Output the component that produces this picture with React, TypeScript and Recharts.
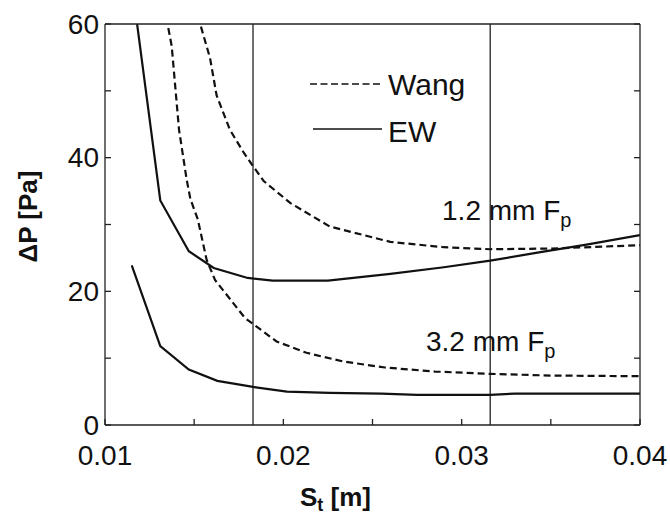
import { LineChart, Line, XAxis, YAxis, ReferenceLine, ReferenceDot, Legend } from 'recharts';

const FONT = '"Liberation Sans", Arial, sans-serif';
const INK = '#111';

// St [m] vs dP [Pa]
const wang12 = [
    { st: 0.01538, dp: 59.6 },
    { st: 0.01589, dp: 54.9 },
    { st: 0.01626, dp: 49.3 },
    { st: 0.0170, dp: 44.2 },
    { st: 0.01779, dp: 40.7 },
    { st: 0.01826, dp: 38.9 },
    { st: 0.0189, dp: 36.5 },
    { st: 0.0204, dp: 33.2 },
    { st: 0.0226, dp: 29.7 },
    { st: 0.0260, dp: 27.4 },
    { st: 0.0290, dp: 26.6 },
    { st: 0.0316, dp: 26.3 },
    { st: 0.0350, dp: 26.4 },
    { st: 0.0400, dp: 26.9 },
];

const ew12 = [
    { st: 0.0118, dp: 60 },
    { st: 0.0131, dp: 33.6 },
    { st: 0.0147, dp: 26.0 },
    { st: 0.0161, dp: 23.5 },
    { st: 0.0180, dp: 22.0 },
    { st: 0.0194, dp: 21.6 },
    { st: 0.0225, dp: 21.6 },
    { st: 0.0260, dp: 22.6 },
    { st: 0.0290, dp: 23.6 },
    { st: 0.0316, dp: 24.6 },
    { st: 0.0345, dp: 25.9 },
    { st: 0.0370, dp: 27.0 },
    { st: 0.0400, dp: 28.4 },
];

const wang32 = [
    { st: 0.01355, dp: 59.4 },
    { st: 0.01374, dp: 56.7 },
    { st: 0.01415, dp: 44.2 },
    { st: 0.01458, dp: 36.7 },
    { st: 0.01479, dp: 33.8 },
    { st: 0.0152, dp: 30.8 },
    { st: 0.0157, dp: 24.7 },
    { st: 0.01617, dp: 21.7 },
    { st: 0.01785, dp: 16.0 },
    { st: 0.01826, dp: 15.2 },
    { st: 0.01962, dp: 12.5 },
    { st: 0.0213, dp: 10.8 },
    { st: 0.02336, dp: 9.5 },
    { st: 0.0257, dp: 8.6 },
    { st: 0.0285, dp: 8.0 },
    { st: 0.0316, dp: 7.65 },
    { st: 0.0350, dp: 7.4 },
    { st: 0.0400, dp: 7.3 },
];

const ew32 = [
    { st: 0.0115, dp: 23.9 },
    { st: 0.0131, dp: 11.8 },
    { st: 0.0147, dp: 8.3 },
    { st: 0.0163, dp: 6.6 },
    { st: 0.0183, dp: 5.7 },
    { st: 0.0202, dp: 5.0 },
    { st: 0.0226, dp: 4.8 },
    { st: 0.0255, dp: 4.7 },
    { st: 0.0275, dp: 4.5 },
    { st: 0.0316, dp: 4.5 },
    { st: 0.0330, dp: 4.7 },
    { st: 0.0400, dp: 4.7 },
];

const xTicks = [0.01, 0.015, 0.02, 0.025, 0.03, 0.035, 0.04];
const yTicks = [0, 10, 20, 30, 40, 50, 60];
const markerLines = [0.0183, 0.0316];
const legendNames = ['Wang', 'EW'];
const notes = [
    { text: '1.2 mm F', sub: 'p', st: 0.0289, dp: 30.7 },
    { text: '3.2 mm F', sub: 'p', st: 0.0280, dp: 11.0 },
];

const DASH = '7 4';
const AXIS = '#222';
const axisStroke = { stroke: AXIS, strokeWidth: 1.3 };
const X_GAP = 20; // label gap under the x axis
const Y_GAP = 6; // label gap left of the y axis
const TICK = 6;

const fmtX = (v: number) => (Math.round(v * 1000) % 10 === 0 ? v.toFixed(2) : '');
const fmtY = (v: number) => (v % 20 === 0 ? String(v) : '');

// ticks point into the plot, so each tick draws its own little line
function BottomTick({ x, y, payload }: any) {
    const axisY = y - X_GAP;
    return (
        <g>
            <line x1={x} x2={x} y1={axisY} y2={axisY - TICK} stroke={AXIS} strokeWidth={1.3} />
            <text x={x} y={y} dy="0.71em" textAnchor="middle" fontFamily={FONT} fontSize={28} fill={INK}>
                {fmtX(payload.value)}
            </text>
        </g>
    );
}

function LeftTick({ x, y, payload }: any) {
    const axisX = x + Y_GAP;
    return (
        <g>
            <line x1={axisX} x2={axisX + TICK} y1={y} y2={y} stroke={AXIS} strokeWidth={1.3} />
            <text x={x} y={y} dy="0.34em" textAnchor="end" fontFamily={FONT} fontSize={28} fill={INK}>
                {fmtY(payload.value)}
            </text>
        </g>
    );
}

function TopTick({ x, y }: any) {
    return <line x1={x} x2={x} y1={y} y2={y + TICK} stroke={AXIS} strokeWidth={1.3} />;
}

function RightTick({ x, y }: any) {
    return <line x1={x} x2={x - TICK} y1={y} y2={y} stroke={AXIS} strokeWidth={1.3} />;
}

function YTitle({ viewBox }: any) {
    const x = viewBox.x + 37;
    const y = viewBox.y + viewBox.height / 2 - 8;
    return (
        <text x={x} y={y} transform={`rotate(-90 ${x} ${y})`} textAnchor="middle"
            fontFamily={FONT} fontSize={26} fontWeight="bold" fill={INK}>
            ΔP [Pa]
        </text>
    );
}

function XTitle({ viewBox }: any) {
    const x = viewBox.x + 195;
    const y = viewBox.y + 81;
    return (
        <text x={x} y={y} fontFamily={FONT} fontSize={26} fontWeight="bold" fill={INK}>
            S<tspan fontSize={18} dy={5}>t</tspan><tspan dy={-5}> [m]</tspan>
        </text>
    );
}

function noteLabel(text: string, sub: string) {
    return ({ viewBox }: any) => (
        <text x={viewBox.x} y={viewBox.y} fontFamily={FONT} fontSize={28} fill={INK}>
            {text}<tspan fontSize={20} dy={7}>{sub}</tspan>
        </text>
    );
}

function LegendBox() {
    return (
        <svg width={180} height={100} style={{ display: 'block' }}>
            {legendNames.map((name, i) => (
                <g key={name}>
                    <line x1={10 + i * 3} x2={82} y1={24 + i * 45} y2={24 + i * 45}
                        stroke={INK} strokeWidth={1.3} strokeDasharray={i === 0 ? '7 3.5' : undefined} />
                    <text x={88} y={35 + i * 47} fontFamily={FONT} fontSize={30} fill={INK}>{name}</text>
                </g>
            ))}
        </svg>
    );
}

export default function App() {
    return (
        <div style={{ position: 'absolute', left: 0, top: 0, background: '#fff' }}>
            <LineChart width={670} height={520} margin={{ top: 4, right: 0, bottom: 0, left: 0 }}>
                <XAxis xAxisId="b" dataKey="st" type="number" domain={[0.01, 0.04]} ticks={xTicks}
                    allowDataOverflow height={95} tickSize={0} tickMargin={X_GAP} tickLine={false}
                    axisLine={axisStroke} tick={<BottomTick />} interval={0}
                    label={<XTitle />} />
                <XAxis xAxisId="t" orientation="top" type="number" domain={[0.01, 0.04]} ticks={xTicks}
                    allowDataOverflow height={20} tickSize={0} tickMargin={0} tickLine={false}
                    axisLine={axisStroke} tick={<TopTick />} interval={0} />
                <YAxis yAxisId="l" type="number" domain={[0, 60]} ticks={yTicks} allowDataOverflow
                    width={105} tickSize={0} tickMargin={Y_GAP} tickLine={false}
                    axisLine={axisStroke} tick={<LeftTick />} interval={0}
                    label={<YTitle />} />
                <YAxis yAxisId="r" orientation="right" type="number" domain={[0, 60]} ticks={yTicks}
                    allowDataOverflow width={30} tickSize={0} tickMargin={0} tickLine={false}
                    axisLine={axisStroke} tick={<RightTick />} interval={0} />

                {markerLines.map((v) => (
                    <ReferenceLine key={v} xAxisId="b" yAxisId="l" x={v} stroke={AXIS} strokeWidth={1.3} />
                ))}

                <Line xAxisId="b" yAxisId="l" data={wang12} dataKey="dp" name="Wang 1.2 mm" type="linear"
                    stroke={INK} strokeWidth={2.2} strokeDasharray={DASH} dot={false} isAnimationActive={false} />
                <Line xAxisId="b" yAxisId="l" data={ew12} dataKey="dp" name="EW 1.2 mm" type="linear"
                    stroke={INK} strokeWidth={2.2} dot={false} isAnimationActive={false} />
                <Line xAxisId="b" yAxisId="l" data={wang32} dataKey="dp" name="Wang 3.2 mm" type="linear"
                    stroke={INK} strokeWidth={2.2} strokeDasharray={DASH} dot={false} isAnimationActive={false} />
                <Line xAxisId="b" yAxisId="l" data={ew32} dataKey="dp" name="EW 3.2 mm" type="linear"
                    stroke={INK} strokeWidth={2.2} dot={false} isAnimationActive={false} />

                {notes.map((n) => (
                    <ReferenceDot key={n.text} xAxisId="b" yAxisId="l" x={n.st} y={n.dp} r={0}
                        fill="none" stroke="none" label={noteLabel(n.text, n.sub)} />
                ))}

                <Legend layout="vertical" align="center" verticalAlign="middle"
                    wrapperStyle={{ left: 300, top: 60, width: 180 }} content={() => <LegendBox />} />
            </LineChart>
        </div>
    );
}
